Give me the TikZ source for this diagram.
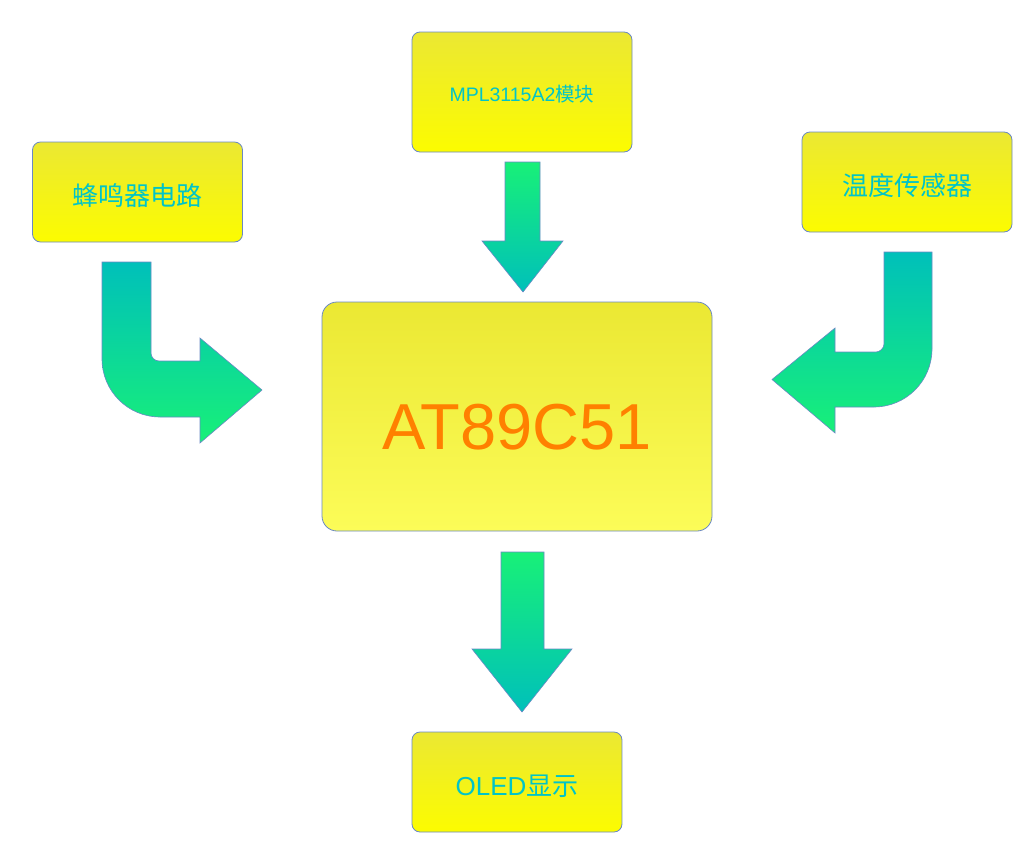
\documentclass[tikz,border=0pt]{standalone}
\usepackage{fontspec}
\setmainfont{Liberation Sans}
\newfontfamily\cjk{Noto Sans CJK SC}
\definecolor{boxtop}{HTML}{EBE833}
\definecolor{boxbot}{HTML}{FCFC00}
\definecolor{mcubot}{HTML}{FCFC58}
\definecolor{edgeblue}{HTML}{6A88C4}
\definecolor{labelcyan}{HTML}{00C4C8}
\definecolor{mcuorange}{HTML}{FF8000}
\definecolor{flowgreen}{HTML}{18F078}
\definecolor{flowteal}{HTML}{00C0BA}
\tikzset{
  modbox/.style={
    rounded corners=8pt,
    draw=edgeblue,
    line width=0.8pt,
    top color=boxtop,
    bottom color=boxbot,
    minimum width=210pt,
    minimum height=100pt,
    text=labelcyan,
    font=\fontsize{26}{30}\selectfont,
    text height=27pt,
    text depth=0pt,
    inner sep=0pt
  },
  mcubox/.style={
    modbox,
    rounded corners=15pt,
    minimum width=390pt,
    minimum height=229pt,
    bottom color=mcubot,
    text=mcuorange,
    font=\fontsize{65}{72}\selectfont,
    text height=66pt
  },
  flowdown/.style={draw=edgeblue, line width=0.6pt, top color=flowgreen, bottom color=flowteal},
  flowbent/.style={draw=edgeblue, line width=0.6pt, top color=flowteal, bottom color=flowgreen}
}
\begin{document}
\begin{tikzpicture}[x=1pt,y=-1pt]
\useasboundingbox (0,0) rectangle (1029,849);
\node[modbox, minimum width=220pt, minimum height=120pt, font=\fontsize{19.5}{24}\selectfont, text height=19pt] (mpl) at (522,92) {MPL3115A2{\cjk 模块}};
\node[modbox] (buzzer) at (137.5,192) {\cjk 蜂鸣器电路};
\node[modbox] (temp) at (907,182) {\cjk 温度传感器};
\node[mcubox] (mcu) at (517,416.5) {AT89C51};
\node[modbox] (oled) at (517,782) {OLED{\cjk 显示}};
% block arrows
\path[flowdown] (505,162) -- (540,162) -- (540,241) -- (563,241) -- (523,292) -- (482,241) -- (505,241) -- cycle;
\path[flowdown] (501,552) -- (544,552) -- (544,649) -- (572,649) -- (522,712) -- (472,649) -- (501,649) -- cycle;
\path[flowbent] (102,262) -- (151,262) -- (151,353) .. controls (151,357.4) and (154.6,361) .. (159,361) -- (200,361) -- (200,338) -- (262,390) -- (200,443) -- (200,417) -- (160,417) .. controls (128,417) and (102,391) .. (102,359) -- cycle;
\path[flowbent] (932,252) -- (884,252) -- (884,344) .. controls (884,348.4) and (879.6,352) .. (876,352) -- (835,352) -- (835,328) -- (772,379.5) -- (835,433) -- (835,407) -- (874,407) .. controls (906,407) and (932,381) .. (932,349) -- cycle;
\end{tikzpicture}
\end{document}
